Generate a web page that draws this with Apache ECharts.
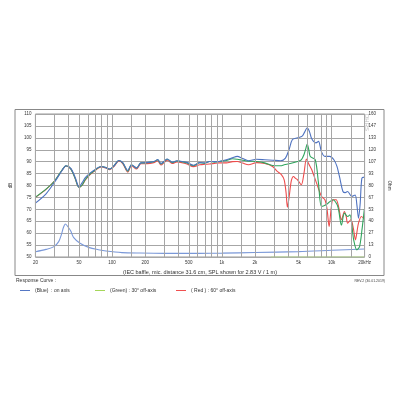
<!DOCTYPE html>
<html><head><meta charset="utf-8">
<script src="https://cdn.jsdelivr.net/npm/echarts@6/dist/echarts.min.js"></script>
<style>html,body{margin:0;padding:0;background:#fff}#c{width:400px;height:400px}</style>
</head><body><div id="c"></div>
<script>
// ---- data ----
var xTickLabels = [20, 50, 100, 200, 500, 1000, 2000, 5000, 10000, 20000];
var gridFreqs = [20,30,40,50,60,70,80,90,100,150,200,300,400,500,600,700,800,900,1000,1500,2000,3000,4000,5000,6000,7000,8000,9000,10000,15000,20000];
var splLabels = [50,55,60,65,70,75,80,85,90,95,100,105,110];

var blueF  = [20,25,30,35,38,42,46,50,53,57,62,68,75,80,88,95,105,115,125,139,150,167,183,200,222,244,260,279,300,318,355,390,420,482,551,630,700,772,860,946,1100,1250,1380,1550,1750,2070,2460,2900,3440,3800,4100,4400,4900,5400,5700,6000,6300,6600,7200,7600,8100,8700,9600,10500,11200,11800,12700,13300,14000,15300,16400,17000,17600,18200,18900,19900];
var blueDb = [72.6,76.5,81.5,86.3,88.3,87.2,83.5,79.4,81.0,83.3,85.0,86.3,87.6,88.0,87.5,86.9,88.5,90.5,89.6,86.3,88.7,87.4,89.5,89.6,89.8,90.2,90.9,89.2,90.3,91.1,89.8,90.4,90.2,89.7,88.5,89.6,89.5,90.1,90.0,90.1,90.8,91.6,92.2,91.3,90.4,91.0,90.8,90.6,90.4,91.5,95.1,99.3,100.0,100.7,102.5,104.2,102.5,99.6,97.9,98.5,94.1,92.2,92.2,90.8,88.0,83.8,77.5,77.0,77.5,75.4,76.0,72.0,66.3,72.0,83.1,83.5];

var greenF  = [20,25,30,35,38,42,46,50,53,57,62,68,75,80,88,95,105,115,125,139,150,167,183,200,222,244,260,279,300,318,355,390,420,482,551,630,700,772,860,946,1100,1250,1380,1550,1750,2070,2460,2900,3440,3700,4200,4900,5300,5600,5850,6000,6200,6400,7100,7600,8100,8900,9500,10300,11400,12300,13100,14000,14700,15900,17000,18000,19000,19900];
var greenDb = [75.1,78.5,82.0,86.5,88.3,87.0,83.0,79.2,80.0,82.5,84.5,86.0,87.5,88.0,87.5,86.9,88.5,90.5,89.5,86.0,88.7,87.3,89.5,89.5,89.7,90.1,90.8,89.0,90.2,91.0,89.6,90.3,90.1,89.5,88.3,89.6,89.3,90.1,89.8,90.1,90.5,91.2,91.0,90.6,90.2,90.1,89.5,88.4,88.3,88.7,89.2,90.1,90.8,92.9,95.8,97.4,95.0,92.2,90.8,81.0,71.2,71.9,73.0,74.0,71.2,63.4,68.4,67.0,67.7,57.2,53.0,54.4,62.0,70.1];

var redF  = [20,25,30,35,38,42,46,50,53,57,62,68,75,80,88,95,105,115,125,139,150,167,183,200,222,244,260,279,300,318,355,390,420,482,551,630,700,772,860,946,1100,1250,1380,1550,1750,2070,2460,2900,3200,3500,3700,3850,3960,4100,4300,4500,4700,4900,5300,5600,5900,6200,6600,7300,8100,8700,9100,9500,9900,10300,11000,11600,12300,13100,13600,14000,15000,15800,16500,17100,17600,18700,19900];
var redDb = [75.0,78.4,82.0,86.4,88.2,87.0,83.0,79.2,80.0,82.3,84.3,85.8,87.3,87.8,87.3,86.6,88.2,90.3,89.2,85.6,88.3,86.9,89.1,89.1,89.3,89.7,90.4,88.6,89.8,90.6,89.2,89.9,89.7,89.0,87.9,88.7,88.9,89.0,89.3,89.5,89.5,90.0,90.1,89.4,88.7,89.6,89.2,88.0,85.9,84.5,82.4,77.0,70.9,75.0,82.0,83.8,83.0,82.4,80.3,85.0,91.1,89.0,86.6,81.0,75.4,74.0,70.0,62.8,70.0,74.0,74.0,71.0,65.6,69.1,67.0,64.2,65.6,62.0,57.2,61.0,64.2,67.0,66.0];

var impF   = [20,25,29.5,32.6,34.5,36,37.5,40,42,44.5,51,62,75,88,123,179,300,630,1000,2000,5000,10000,20000];
var impOhm = [5.9,8.5,11.6,17.2,25,33,37,33,29,22,15.4,10.5,8.2,6.7,4.9,4.4,4.1,4.1,4.3,5.0,6.0,7.5,9.0];

var baseF = [2800, 20000];
var baseDb = [50, 50];

function pairs(f, v){ return f.map(function(x,i){ return [x, v[i]]; }); }

var FONT = 'Liberation Sans';
var chart = echarts.init(document.getElementById('c'), null, {renderer:'canvas'});
var lineCommon = { type:'line', showSymbol:false, symbol:'none', smooth:0.3, animation:false };

chart.setOption({
  animation:false,
  backgroundColor:'#fff',
  textStyle:{fontFamily:FONT},
  title:{
    text:'(IEC baffle, mic. distance 31.6 cm, SPL shown for 2.83 V / 1 m)',
    left:'center', top:264,
    textStyle:{fontSize:5.5, fontWeight:'normal', color:'#333', fontFamily:FONT}
  },
  grid:{left:31, right:31, top:114, bottom:143, show:true, borderColor:'#999', borderWidth:1},
  xAxis:{
    type:'log', logBase:10, min:20, max:20000,
    axisLine:{show:false}, axisTick:{show:false},
    splitLine:{show:false}, minorSplitLine:{show:false},
    axisLabel:{
      customValues:xTickLabels, fontSize:4.5, color:'#333', margin:3, showMinLabel:true, showMaxLabel:true,
      formatter:function(v){ v=Math.round(v); if(v===20000) return '20kHz'; return v>=1000 ? (v/1000)+'k' : String(v); }
    }
  },
  yAxis:[{
    type:'value', min:50, max:110, interval:5,
    name:'dB', nameLocation:'middle', nameGap:11, nameRotate:90,
    nameTextStyle:{fontSize:4.5, color:'#333'},
    axisLine:{show:false}, axisTick:{show:false},
    axisLabel:{fontSize:4.5, color:'#333', margin:4},
    splitLine:{lineStyle:{color:'#a6a6a6', width:1}}
  },{
    type:'value', min:0, max:160, interval:160/12, position:'right',
    name:'Ohm', nameLocation:'middle', nameGap:12, nameRotate:-90,
    nameTextStyle:{fontSize:4.5, color:'#333'},
    axisLine:{show:false}, axisTick:{show:false},
    axisLabel:{fontSize:4.5, color:'#333', margin:4, formatter:function(v){return String(Math.round(v));}},
    splitLine:{show:false}
  }],
  legend:[
    {left:15, top:283, itemWidth:10, itemHeight:1, icon:'rect', itemGap:4,
     textStyle:{fontSize:5, color:'#333'}, data:[{name:'(Blue)  : on axis', itemStyle:{color:'#5577c4'}}]},
    {left:90, top:283, itemWidth:10, itemHeight:1, icon:'rect',
     textStyle:{fontSize:5, color:'#333'}, data:[{name:'(Green) : 30° off-axis', itemStyle:{color:'#a5d65a'}}]},
    {left:171, top:283, itemWidth:10, itemHeight:1, icon:'rect',
     textStyle:{fontSize:5, color:'#333'}, data:[{name:'( Red ) : 60° off-axis', itemStyle:{color:'#f05050'}}]}
  ],
  graphic:[
    {type:'rect', shape:{x:15, y:109.5, width:369, height:166}, style:{fill:'none', stroke:'#888', lineWidth:1}, silent:true, z:-1},
    {type:'text', left:16, top:278, style:{text:'Response Curve :', fontSize:5, fill:'#333', fontFamily:FONT}},
    {type:'text', right:15, top:279, style:{text:'REV.2 (30.01.2019)', fontSize:3.5, fill:'#444', fontFamily:FONT}},
    {type:'text', x:370, y:114, rotation:-Math.PI/2, style:{text:'DHRS', fontSize:6, fill:'#bbb', fontFamily:FONT}}
  ],
  series:[
    Object.assign({}, lineCommon, {
      name:'grid', data:[], lineStyle:{width:0},
      markLine:{silent:true, symbol:['none','none'], animation:false, label:{show:false},
        lineStyle:{color:'#a6a6a6', type:'solid', width:1},
        data:gridFreqs.map(function(f){ return {xAxis:f}; })}
    }),
    Object.assign({}, lineCommon, {name:'base', data:pairs(baseF, baseDb), smooth:false, lineStyle:{color:'#b5dc8a', width:1.2}, z:1}),
    Object.assign({}, lineCommon, {name:'impedance', yAxisIndex:1, data:pairs(impF, impOhm), lineStyle:{color:'#7a98d8', width:1.1}}),
    Object.assign({}, lineCommon, {name:'( Red ) : 60° off-axis', data:pairs(redF, redDb), lineStyle:{color:'#ee4c4c', width:1.1}, itemStyle:{color:'#ee4c4c'}}),
    Object.assign({}, lineCommon, {name:'(Green) : 30° off-axis', data:pairs(greenF, greenDb), lineStyle:{color:'#2fa45c', width:1.1}, itemStyle:{color:'#2fa45c'}}),
    Object.assign({}, lineCommon, {name:'(Blue)  : on axis', data:pairs(blueF, blueDb), lineStyle:{color:'#4e72c0', width:1.1}, itemStyle:{color:'#4e72c0'}})
  ]
});
</script></body></html>
